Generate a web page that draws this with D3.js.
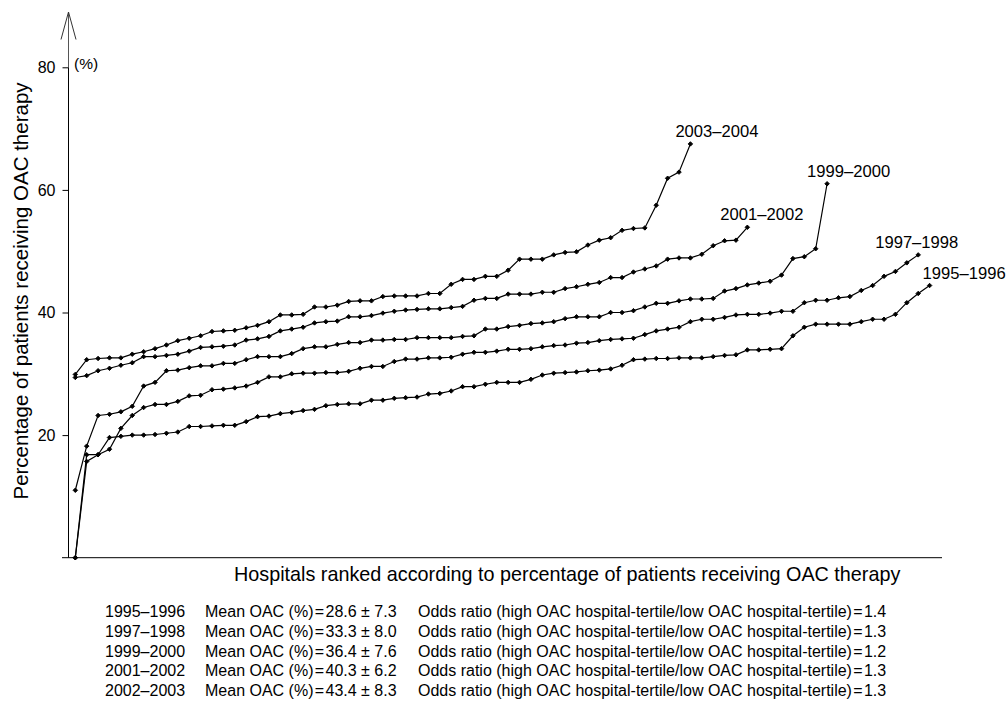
<!DOCTYPE html>
<html>
<head>
<meta charset="utf-8">
<script src="https://cdn.jsdelivr.net/npm/d3@7"></script>
<style>
body { margin: 0; background: #fff; }
text { font-family: "Liberation Sans", Arial, sans-serif; fill: #000; }
</style>
</head>
<body>
<div id="chart"></div>
<script>
'use strict';

// OAC therapy (%) per hospital, hospitals ranked low to high, one array per period
var periods = ["1995\u20131996", "1997\u20131998", "1999\u20132000", "2001\u20132002", "2003\u20132004"];

var oac9596 = [0, 16.8, 16.8, 19.6, 19.8, 20.0, 20.0, 20.1, 20.3, 20.5, 21.4, 21.4, 21.5, 21.6, 21.6, 22.2, 23.0, 23.1, 23.5, 23.7, 24.0, 24.2, 24.8, 25.0, 25.1, 25.1,
  25.7, 25.7, 26.0, 26.1, 26.2, 26.7, 26.8, 27.2, 27.9, 27.9, 28.3, 28.6, 28.6, 28.6, 29.1, 29.8, 30.1, 30.2, 30.3, 30.5, 30.6, 30.8, 31.4, 32.3, 32.4,
  32.5, 32.5, 32.6, 32.6, 32.6, 32.8, 33.0, 33.1, 33.9, 33.9, 34.0, 34.1, 36.2, 37.6, 38.1, 38.1, 38.1, 38.1, 38.5, 38.9, 38.9, 39.7, 41.6, 43.1, 44.4];

var oac9798 = [0, 15.7, 16.8, 17.7, 21.1, 23.2, 24.5, 25.0, 25.0, 25.5, 26.4, 26.5, 27.4, 27.5, 27.7, 28.0, 28.6, 29.5, 29.5, 30.0, 30.1, 30.1, 30.2, 30.2, 30.4, 30.9,
  31.2, 31.2, 32.0, 32.4, 32.4, 32.6, 32.6, 32.7, 33.2, 33.5, 33.5, 33.7, 34.0, 34.0, 34.1, 34.4, 34.6, 34.7, 35.0, 35.1, 35.4, 35.6, 35.7, 35.8, 36.4,
  37.0, 37.3, 37.6, 38.5, 38.9, 38.9, 39.2, 39.6, 39.7, 39.7, 39.9, 40.2, 40.2, 41.6, 42.0, 42.0, 42.4, 42.6, 43.6, 44.4, 45.9, 46.7, 48.1, 49.4];

var oac9900 = [11.0, 18.2, 23.2, 23.4, 23.8, 24.7, 28.0, 28.6, 30.5, 30.6, 31.0, 31.3, 31.3, 31.7, 31.7, 32.3, 32.8, 32.8, 32.8, 33.3, 34.1, 34.4, 34.4, 34.8, 35.1, 35.1,
  35.5, 35.5, 35.6, 35.6, 35.9, 35.9, 35.9, 35.9, 36.1, 36.2, 37.3, 37.3, 37.7, 37.9, 38.2, 38.3, 38.5, 39.0, 39.3, 39.3, 39.3, 40.0, 40.0, 40.3, 40.9,
  41.5, 41.5, 41.9, 42.2, 42.2, 42.3, 43.5, 43.9, 44.5, 44.8, 45.1, 46.1, 48.8, 49.1, 50.4, 61.0];

var oac0102 = [29.4, 29.7, 30.5, 30.9, 31.4, 31.8, 32.8, 32.8, 33.0, 33.2, 33.7, 34.3, 34.4, 34.5, 34.7, 35.5, 35.7, 36.1, 37.0, 37.3, 37.6, 38.3, 38.5, 38.6, 39.3, 39.3,
  39.5, 39.9, 40.2, 40.4, 40.5, 40.6, 40.6, 40.8, 41.0, 42.0, 42.3, 42.3, 43.0, 43.0, 43.0, 43.3, 43.3, 43.9, 44.2, 44.6, 44.9, 45.7, 45.7, 46.6, 47.1,
  47.6, 48.7, 48.9, 48.9, 49.5, 50.9, 51.7, 51.8, 53.9];

var oac0304 = [29.9, 32.3, 32.5, 32.6, 32.6, 33.2, 33.6, 34.1, 34.7, 35.4, 35.8, 36.2, 36.9, 37.0, 37.1, 37.5, 37.9, 38.5, 39.6, 39.6, 39.7, 40.9, 40.9, 41.2, 41.8, 41.9,
  41.9, 42.6, 42.7, 42.7, 42.7, 43.1, 43.1, 44.6, 45.4, 45.4, 45.9, 45.9, 46.9, 48.7, 48.7, 48.7, 49.4, 49.8, 49.9,
  51.0, 51.8, 52.2, 53.4, 53.7, 53.8, 57.5, 61.9, 62.9, 67.5];

var series = [oac9596, oac9798, oac9900, oac0102, oac0304];

var yTicks = [20, 40, 60, 80];

// summary table under the chart
var tablePeriods = ["1995\u20131996", "1997\u20131998", "1999\u20132000", "2001\u20132002", "2002\u20132003"];
var meanOAC = [28.6, 33.3, 36.4, 40.3, 43.4];
var sdOAC = [7.3, 8.0, 7.6, 6.2, 8.3];
var oddsRatio = [1.4, 1.3, 1.2, 1.3, 1.3];

// label shift from the last point of each line
var labelDx = [-7, -43, -20, -27, -15];

var width = 1006, height = 701;
var axisX = 68.5;

var svg = d3.select("#chart").append("svg")
  .attr("width", width)
  .attr("height", height);

// scales: hospital rank on x, percentage on y
var x = d3.scaleLinear().domain([1, 76]).range([75.3, 929.6]);
var y = d3.scaleLinear().domain([0, 80]).range([557.7, 67.3]);

var line = d3.line()
  .x(function(d, i) { return x(i + 1); })
  .y(function(d) { return y(d); });

// y axis ticks and labels
var yAxis = svg.append("g")
  .attr("transform", "translate(" + axisX + ",0)")
  .call(d3.axisLeft(y).tickValues(yTicks).tickSize(6).tickPadding(7));
yAxis.select(".domain").remove();
yAxis.attr("font-size", 16).attr("font-family", null);
yAxis.selectAll("line").attr("stroke", "#000");

// axis lines, y axis ends in an open arrow
svg.append("line")
  .attr("x1", axisX).attr("x2", axisX)
  .attr("y1", y(0)).attr("y2", y(80))
  .attr("stroke", "#000");
svg.append("line")
  .attr("x1", axisX).attr("x2", axisX)
  .attr("y1", y(80)).attr("y2", 12)
  .attr("stroke", "#555");
svg.append("path")
  .attr("d", "M" + (axisX - 7.5) + ",39.5L" + axisX + ",12L" + (axisX + 7.5) + ",39.5")
  .attr("fill", "none")
  .attr("stroke", "#333");
svg.append("line")
  .attr("x1", 62).attr("x2", 942)
  .attr("y1", y(0)).attr("y2", y(0))
  .attr("stroke", "#000");

svg.append("text")
  .attr("x", 74).attr("y", 69)
  .attr("font-size", 15.5)
  .text("(%)");

// lines with point markers
var marker = d3.symbol().type(d3.symbolSquare).size(10);

series.forEach(function(values) {
  svg.append("path")
    .datum(values)
    .attr("fill", "none")
    .attr("stroke", "#000")
    .attr("stroke-width", 1.2)
    .attr("d", line);

  svg.append("g").selectAll("path")
    .data(values)
    .enter().append("path")
      .attr("d", marker)
      .attr("fill", "#000")
      .attr("stroke", "#000")
      .attr("stroke-width", 0.9)
      .attr("transform", function(d, i) {
        return "translate(" + x(i + 1) + "," + y(d) + ") rotate(45)";
      });
});

// period labels next to the end of each line
series.forEach(function(values, k) {
  var n = values.length;
  svg.append("text")
    .attr("x", x(n) + labelDx[k])
    .attr("y", y(values[n - 1]) - 7)
    .attr("font-size", 16.6)
    .text(periods[k]);
});

// axis titles
svg.append("text")
  .attr("x", 234).attr("y", 580.5)
  .attr("font-size", 19.8)
  .text("Hospitals ranked according to percentage of patients receiving OAC therapy");

svg.append("text")
  .attr("transform", "translate(28,291) rotate(-90)")
  .attr("text-anchor", "middle")
  .attr("font-size", 20.5)
  .text("Percentage of patients receiving OAC therapy");

// table
var f1 = d3.format(".1f");
var rows = svg.append("g").attr("font-size", 16);
tablePeriods.forEach(function(p, k) {
  var by = 617 + 19.75 * k;
  rows.append("text").attr("x", 105).attr("y", by).text(p);
  rows.append("text").attr("x", 205).attr("y", by)
    .text("Mean OAC (%)\u200a=\u200a" + f1(meanOAC[k]) + " \u00b1 " + f1(sdOAC[k]));
  rows.append("text").attr("x", 418).attr("y", by)
    .text("Odds ratio (high OAC hospital-tertile/low OAC hospital-tertile)\u200a=\u200a" + f1(oddsRatio[k]));
});
</script>
</body>
</html>
